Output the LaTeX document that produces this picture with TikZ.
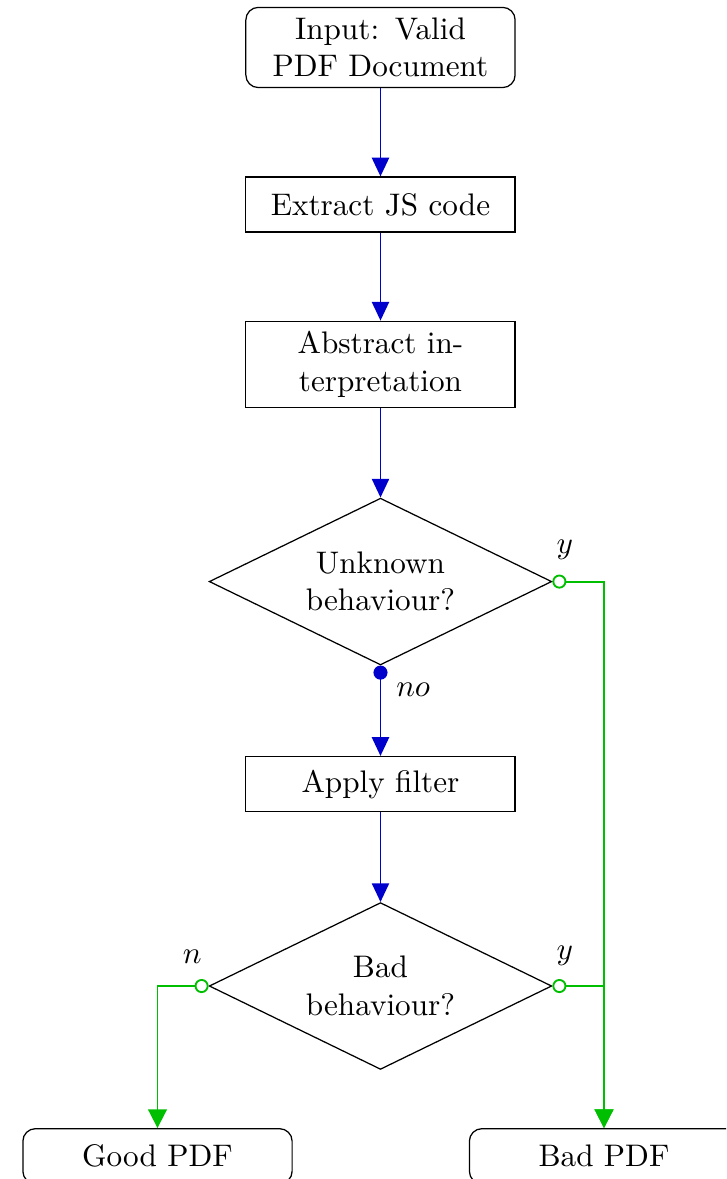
\documentclass[tikz,border=0pt]{standalone}
\usepackage{tikz}
\usetikzlibrary{arrows.meta, shapes.geometric}

\begin{document}
\begin{tikzpicture}[
    block/.style={draw, text width=2.8cm, minimum height=0.62cm, align=center},
    io/.style={block, rounded corners},
    decision/.style={draw, diamond, aspect=2, inner sep=0pt,
                     minimum width=3.86cm, minimum height=1.88cm, align=center},
    flow/.style={-{Triangle[length=6pt, width=5.5pt]}, blue!80!black, semithick},
    yes/.style={{Circle[open, length=4.5pt, fill=white]}-{Triangle[length=6pt, width=6pt]}, green!75!black, semithick},
    tag/.style={text=black}
  ]
    \useasboundingbox (0,0) rectangle (8.182,-13.287);
    \clip (0,0) rectangle (8.182,-13.287);

    \node[io]       (input)   at (4.288,-0.535)  {Input: Valid\\PDF Document};
    \node[block]    (extract) at (4.288,-2.305)  {Extract JS code};
    \node[block]    (absint)  at (4.288,-4.108)  {Abstract in-\\terpretation};
    \node[decision] (unknown) at (4.288,-6.554)  {Unknown\\behaviour?};
    \node[block]    (filter)  at (4.288,-8.836)  {Apply filter};
    \node[decision] (bad)     at (4.288,-11.112) {Bad\\behaviour?};
    \node[io]       (goodpdf) at (1.775,-13.03)  {Good PDF};
    \node[io]       (badpdf)  at (6.807,-13.03)  {Bad PDF};

    \draw[flow] (input) -- (extract);
    \draw[flow] (extract) -- (absint);
    \draw[flow] (absint) -- (unknown);
    \draw[flow, {Circle[length=4.5pt]}-{Triangle[length=6pt, width=5.5pt]}] (unknown.south)
      node[tag, below right, xshift=0.05cm, yshift=-0.07cm] {$no$} -- (filter);
    \draw[flow] (filter) -- (bad);

    \draw[yes] (unknown.east) node[tag, above right, xshift=-0.08cm, yshift=0.12cm] {$y$} -| (badpdf.north);
    \draw[yes] (bad.east) node[tag, above right, xshift=-0.08cm, yshift=0.1cm] {$y$} -| (badpdf.north);
    \draw[yes] (bad.west) node[tag, above left, xshift=0.05cm, yshift=0.13cm] {$n$} -| (goodpdf.north);
  \end{tikzpicture}
\end{document}
